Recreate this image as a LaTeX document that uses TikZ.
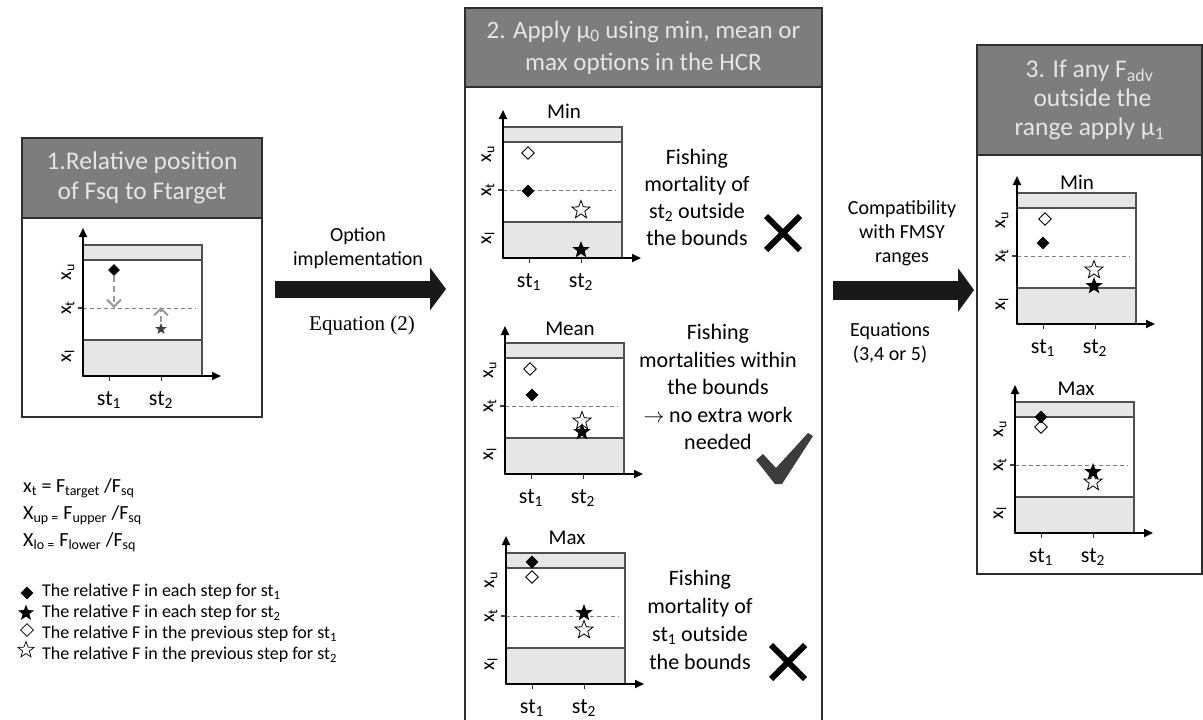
\documentclass[tikz,border=0pt]{standalone}
\usepackage{fontspec}
\setmainfont{Carlito}
\newfontfamily\eqfont{Liberation Serif}
\usetikzlibrary{arrows.meta}
\usetikzlibrary{positioning,shapes.geometric}
\usepackage{xcolor}
\definecolor{headgray}{HTML}{7D7D7D}
\definecolor{bandgray}{HTML}{E5E7E7}
\definecolor{framegray}{HTML}{505050}
\definecolor{boxline}{HTML}{2E2E2E}
\definecolor{tickgray}{HTML}{3C3C3C}
\tikzset{
    panel/.style={draw=boxline, line width=2pt, fill=white, inner sep=0pt},
    header/.style={draw=boxline, line width=2pt, fill=headgray, text=white!90!black,
        align=center, inner sep=0pt, font=\fontsize{25.5}{30}\selectfont},
    frameline/.style={draw=framegray, line width=1.1pt},
    targetline/.style={draw=black!50, line width=0.9pt, dash pattern=on 4pt off 3pt},
    axisline/.style={draw=black, line width=2pt, -{Triangle[length=9pt, width=8pt]}},
    tickline/.style={draw=black!80, line width=1pt},
    ticklab/.style={font=\fontsize{22}{24}\selectfont, inner sep=0pt},
    ylab/.style={rotate=90, font=\fontsize{20}{21}\selectfont, inner sep=0pt},
    plottitle/.style={font=\fontsize{21}{24}\selectfont, inner sep=0pt},
    sidetext/.style={align=center, font=\fontsize{22}{27}\selectfont, inner sep=0pt},
    arrowlab/.style={align=center, font=\fontsize{20}{24}\selectfont, inner sep=0pt},
    bigarrow/.style={draw=black!90, line width=17pt, -{Triangle[length=16pt, width=42pt]}},
    movearrow/.style={draw=black!40, line width=2pt, dash pattern=on 6pt off 4pt,
        -{Straight Barb[length=7pt, width=14pt, line width=2pt]}},
    crossmark/.style={draw=black, line width=6pt},
    fdia/.style={diamond, fill=black, inner sep=0pt, minimum size=13pt},
    odia/.style={diamond, draw=black, line width=0.9pt, fill=white, inner sep=0pt, minimum size=13pt},
    fstar/.style={star, star points=5, star point ratio=2.4, fill=black, inner sep=0pt, minimum size=18pt},
    ostar/.style={star, star points=5, star point ratio=2.4, draw=black, line width=0.8pt,
        fill=white, inner sep=0pt, minimum size=19pt},
    formula/.style={anchor=west, font=\fontsize{20}{22}\selectfont, inner sep=0pt},
    legtext/.style={anchor=west, font=\fontsize{18}{20}\selectfont, inner sep=0pt}
}
% one small HCR plot, drawn in its own scope (origin at the axes crossing)
\newcommand{\hcrframe}[1]{%
    \fill[bandgray] (0,0) rectangle (119,36);
    \fill[bandgray] (0,116) rectangle (119,131);
    \draw[frameline] (0,0) rectangle (119,131) (0,36) -- (119,36) (0,116) -- (119,116);
    \draw[targetline] (0,68) -- (113,68);
    \draw[line width=1.2pt, black!75] (-5,68) -- (0,68);
    \coordinate (#1-o) at (0,0);
    \coordinate (#1-ytop) at (0,148);
    \coordinate (#1-xend) at (138,0);
    \draw[axisline] (#1-o) -- (#1-ytop);
    \draw[axisline] (#1-o) -- (#1-xend);
    \draw[tickline] (26,0) -- (26,-5) (78,0) -- (78,-5);
    \node[ticklab] (#1-st1) at (26,-24) {st\textsubscript{1}};
    \node[ticklab] (#1-st2) at (78,-24) {st\textsubscript{2}};
    \node[ylab] (#1-xu) at (-15,104) {x\textsubscript{u}};
    \node[ylab] (#1-xt) at (-15,68) {x\textsubscript{t}};
    \node[ylab] (#1-xl) at (-15,20) {x\textsubscript{l}};
}

\begin{document}
\begin{tikzpicture}[x=1pt, y=-1pt]
    \path[use as bounding box, clip] (0,0) rectangle (1203,720);

    % Panel 1: relative position
    \node[panel, minimum width=240pt, minimum height=279pt] (p1) at (142,277.5) {};
    \node[header, minimum width=240pt, minimum height=80pt, anchor=north] (h1) at (p1.north)
        {1.Relative position\\of Fsq to Ftarget};
    \begin{scope}[shift={(83,376)}, yscale=-1]
        \hcrframe{q1}
        \node[fdia, minimum size=12pt] (q1-fd) at (31,106) {};
        \node[star, star points=5, star point ratio=2.4, fill=black!75, inner sep=0pt, minimum size=12pt] (q1-fs) at (78,47) {};
        \coordinate (q1-fdt) at (31,68);
        \coordinate (q1-fst) at (78,69);
        \draw[movearrow] (q1-fd) -- (q1-fdt);
        \draw[movearrow] (q1-fs) -- (q1-fst);
    \end{scope}

    % Definitions and legend
    \node[formula] (fx1) at (23,488) {x\textsubscript{t} = F\textsubscript{target} /F\textsubscript{sq}};
    \node[formula] (fx2) at (23,515) {X\textsubscript{up =} F\textsubscript{upper} /F\textsubscript{sq}};
    \node[formula] (fx3) at (23,542) {X\textsubscript{lo =} F\textsubscript{lower} /F\textsubscript{sq}};

    \node[fdia, minimum size=13pt] (lg1) at (27,593) {};
    \node[fstar, minimum size=17pt] (lg2) at (26,613) {};
    \node[odia, minimum size=13pt, line width=0.7pt] (lg3) at (27,630) {};
    \node[ostar, minimum size=17pt, line width=0.7pt] (lg4) at (26,650) {};
    \node[legtext] (lt1) at (42,592) {The relative F in each step for st\textsubscript{1}};
    \node[legtext] (lt2) at (42,613) {The relative F in each step for st\textsubscript{2}};
    \node[legtext] (lt3) at (42,634) {The relative F in the previous step for st\textsubscript{1}};
    \node[legtext] (lt4) at (42,655) {The relative F in the previous step for st\textsubscript{2}};

    % Arrow 1
    \coordinate (a1s) at (275,289);
    \coordinate (a1e) at (446,289);
    \draw[bigarrow] (a1s) -- (a1e);
    \node[arrowlab] (a1top) at (358,248) {Option\\implementation};
    \node[font=\eqfont\fontsize{21}{24}\selectfont, inner sep=0pt] (a1bot) at (362,325) {Equation (2)};

    % Panel 2: apply mu_0
    \node[panel, minimum width=357pt, minimum height=732pt] (p2) at (643.5,374) {};
    \node[header, minimum width=357pt, minimum height=79pt, anchor=north, font=\fontsize{25}{32}\selectfont] (h2) at (p2.north)
        {2. Apply μ\textsubscript{0} using min, mean or\\max options in the HCR};

    \begin{scope}[shift={(503,258)}, yscale=-1]
        \hcrframe{m2}
        \node[plottitle] (m2-t) at (61,147) {Min};
        \node[odia] (m2-od) at (25,105) {};
        \node[fdia] (m2-fd) at (25,67) {};
        \node[ostar] (m2-os) at (78,48) {};
        \node[fstar] (m2-fs) at (78,8) {};
    \end{scope}
    \node[sidetext] (m2-txt) at (697,197) {Fishing\\mortality of\\st\textsubscript{2} outside\\the bounds};
    \draw[crossmark] (766,216) -- (800,250) (766,250) -- (800,216);

    \begin{scope}[shift={(505,474)}, yscale=-1]
        \hcrframe{e2}
        \node[plottitle] (e2-t) at (65,145) {Mean};
        \node[odia] (e2-od) at (25,105) {};
        \node[fdia] (e2-fd) at (27,79) {};
        \node[ostar] (e2-os) at (77,53) {};
        \node[fstar] (e2-fs) at (77,42) {};
    \end{scope}
    \node[sidetext, font=\fontsize{22}{27.5}\selectfont] (e2-txt) at (718,387) {Fishing\\mortalities within\\the bounds\\$\rightarrow$ no extra work\\needed};
    \fill[tickgray] (756,460) -- (763,454) -- (776,468) -- (808,433) -- (813,436)
        -- (782,484) -- (775,484) -- cycle;

    \begin{scope}[shift={(506,684)}, yscale=-1]
        \hcrframe{x2}
        \node[plottitle] (x2-t) at (61,146) {Max};
        \node[odia] (x2-od) at (26,107) {};
        \node[fdia] (x2-fd) at (26,122) {};
        \node[ostar] (x2-os) at (78,54) {};
        \node[fstar] (x2-fs) at (78,71) {};
    \end{scope}
    \node[sidetext, font=\fontsize{22}{28}\selectfont] (x2-txt) at (700,620) {Fishing\\mortality of\\st\textsubscript{1} outside\\the bounds};
    \draw[crossmark] (771,645) -- (805,679) (771,679) -- (805,645);

    % Arrow 2
    \coordinate (a2s) at (833,290);
    \coordinate (a2e) at (974,290);
    \draw[bigarrow, line width=19pt, -{Triangle[length=16pt, width=43pt]}] (a2s) -- (a2e);
    \node[arrowlab] (a2top) at (902,233) {Compatibility\\with FMSY\\ranges};
    \node[arrowlab] (a2bot) at (890,343) {Equations\\(3,4 or 5)};

    % Panel 3: apply mu_1
    \node[panel, minimum width=225pt, minimum height=529pt] (p3) at (1089.5,309.5) {};
    \node[header, minimum width=225pt, minimum height=110pt, anchor=north,
        font=\fontsize{25.5}{29}\selectfont] (h3) at (p3.north)
        {3. If any F\textsubscript{adv}\\\ outside the\\range apply μ\textsubscript{1}};

    \begin{scope}[shift={(1017,324)}, yscale=-1]
        \hcrframe{m3}
        \node[plottitle] (m3-t) at (60,142) {Min};
        \node[odia] (m3-od) at (28,105) {};
        \node[fdia] (m3-fd) at (26,81) {};
        \node[ostar] (m3-os) at (77,54) {};
        \node[fstar] (m3-fs) at (77,38) {};
    \end{scope}

    \begin{scope}[shift={(1015,533)}, yscale=-1]
        \hcrframe{x3}
        \node[plottitle] (x3-t) at (61,144) {Max};
        \node[odia] (x3-od) at (26,106) {};
        \node[fdia] (x3-fd) at (26,116) {};
        \node[ostar] (x3-os) at (78,51) {};
        \node[fstar] (x3-fs) at (78,61) {};
    \end{scope}
\end{tikzpicture}
\end{document}
